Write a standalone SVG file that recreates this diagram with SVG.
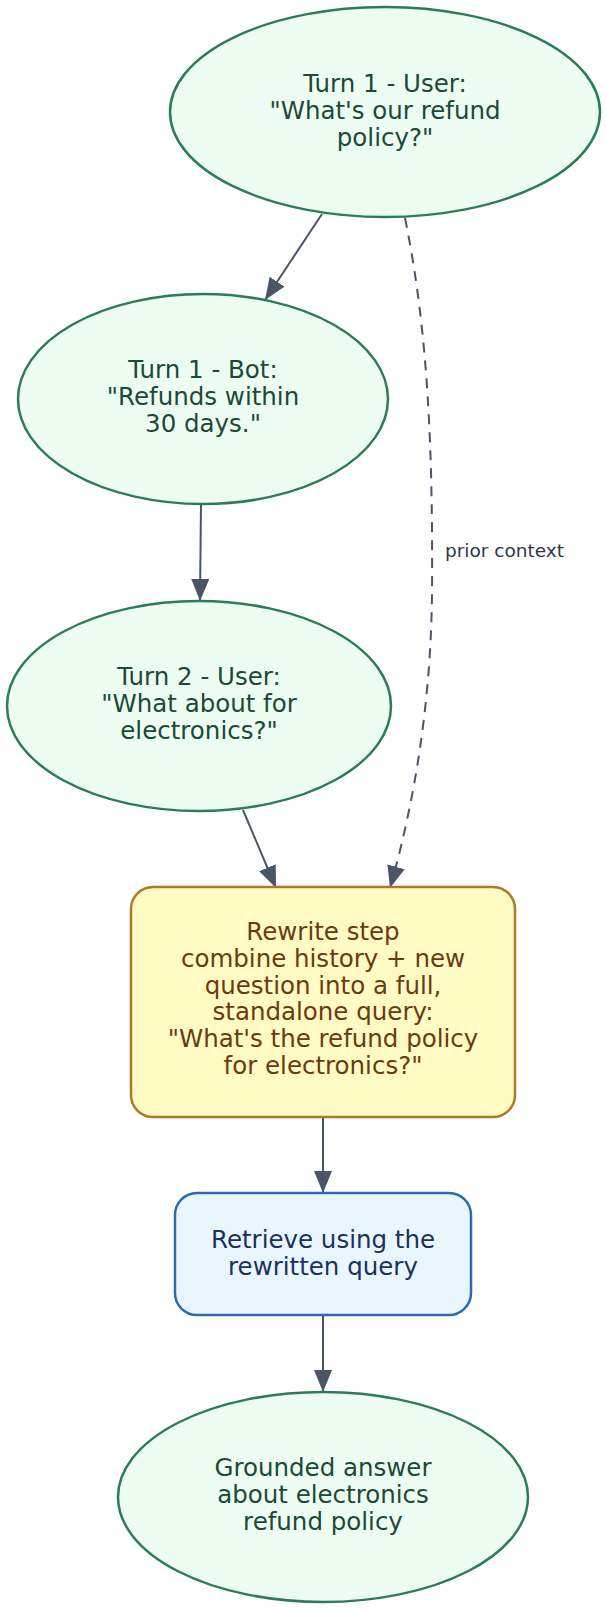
<svg xmlns="http://www.w3.org/2000/svg" width="606" height="1610" viewBox="0 0 606 1610">
<style>
.el{fill:#edfdf2;stroke:#2a7d58;stroke-width:2.5}
.et{fill:#1b4a35}
.t{font-family:"DejaVu Sans",sans-serif;font-size:24.5px;text-anchor:middle}
.rw{fill:#fffbc2;stroke:#b07a25;stroke-width:2.5}
.rwt{fill:#6b3a12}
.rt{fill:#eaf6fe;stroke:#2c6bb0;stroke-width:2.5}
.rtt{fill:#1a3358}
.e{fill:none;stroke:#4a5568;stroke-width:2}
.lbl{font-family:"DejaVu Sans",sans-serif;font-size:18.5px;fill:#2d3748}
</style>
<defs>
<marker id="ah" markerUnits="userSpaceOnUse" markerWidth="22" markerHeight="18" refX="22" refY="9" orient="auto">
<path d="M0,0 L22,9 L0,18 Z" fill="#4a5568"/>
</marker>
</defs>
<g id="edges">
<path class="e" d="M322,214 L265,300" marker-end="url(#ah)"/>
<path class="e" d="M201,504 L200,601" marker-end="url(#ah)"/>
<path class="e" d="M243,810 L276,888" marker-end="url(#ah)"/>
<path class="e" stroke-dasharray="10,8" d="M405,218 C428,330 433,450 432,594 C431,690 418,790 390,888" marker-end="url(#ah)"/>
<text class="lbl" x="445" y="557">prior context</text>
<path class="e" d="M323,1117 L323,1193" marker-end="url(#ah)"/>
<path class="e" d="M323,1315 L323,1392" marker-end="url(#ah)"/>
</g>
<g id="turn1user">
<ellipse class="el" cx="385" cy="112" rx="215" ry="105"/>
<text class="t et"><tspan x="385" y="92">Turn 1 - User:</tspan><tspan x="385" y="119">"What's our refund</tspan><tspan x="385" y="146">policy?"</tspan></text>
</g>
<g id="turn1bot">
<ellipse class="el" cx="203" cy="399" rx="185" ry="105"/>
<text class="t et"><tspan x="203" y="378">Turn 1 - Bot:</tspan><tspan x="203" y="405">"Refunds within</tspan><tspan x="203" y="432">30 days."</tspan></text>
</g>
<g id="turn2user">
<ellipse class="el" cx="199" cy="706" rx="192" ry="105"/>
<text class="t et"><tspan x="199" y="685">Turn 2 - User:</tspan><tspan x="199" y="712">"What about for</tspan><tspan x="199" y="739">electronics?"</tspan></text>
</g>
<g id="rewrite">
<rect class="rw" x="131" y="887" width="384" height="230" rx="22"/>
<text class="t rwt"><tspan x="323" y="940">Rewrite step</tspan><tspan x="323" y="967">combine history + new</tspan><tspan x="323" y="994">question into a full,</tspan><tspan x="323" y="1020">standalone query:</tspan><tspan x="323" y="1047">"What's the refund policy</tspan><tspan x="323" y="1074">for electronics?"</tspan></text>
</g>
<g id="retrieve">
<rect class="rt" x="175" y="1193" width="296" height="122" rx="22"/>
<text class="t rtt"><tspan x="323" y="1248">Retrieve using the</tspan><tspan x="323" y="1275">rewritten query</tspan></text>
</g>
<g id="answer">
<ellipse class="el" cx="323" cy="1497" rx="205" ry="105"/>
<text class="t et"><tspan x="323" y="1476">Grounded answer</tspan><tspan x="323" y="1503">about electronics</tspan><tspan x="323" y="1530">refund policy</tspan></text>
</g>
</svg>
